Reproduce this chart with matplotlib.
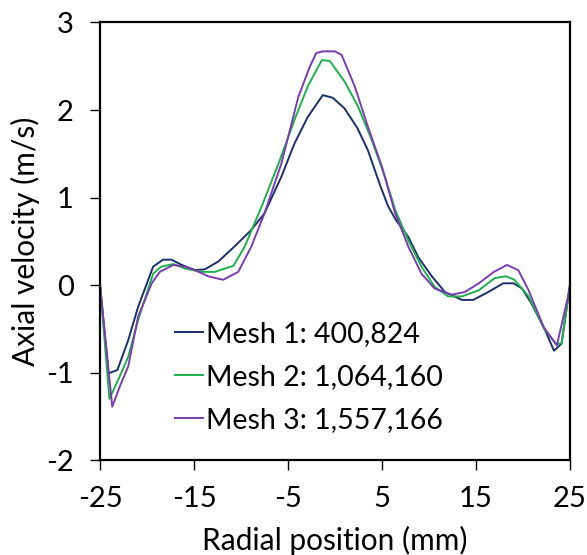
import matplotlib
matplotlib.use("Agg")
import matplotlib.pyplot as plt

# Mesh independence - axial velocity profiles
mesh1_x = [-25, -24.1, -23.15, -22.0, -20.95, -19.35, -18.3, -17.4, -16.3, -14.9, -13.85, -12.4,
           -10.7, -8.9, -7.5, -5.7, -4.3, -2.9, -1.3, -0.25, 1.0, 2.4, 3.5, 4.8, 5.65, 6.5, 7.8,
           8.85, 10.3, 11.7, 13.5, 14.7, 16.3, 17.9, 19.0, 19.9, 20.9, 22.2, 23.3, 24.1, 25]
mesh1_y = [0, -1.01, -0.97, -0.63, -0.25, 0.21, 0.29, 0.29, 0.23, 0.17, 0.18, 0.27,
           0.44, 0.63, 0.82, 1.24, 1.62, 1.92, 2.17, 2.14, 2.02, 1.79, 1.54, 1.14, 0.9, 0.74, 0.55,
           0.32, 0.10, -0.08, -0.17, -0.17, -0.08, 0.02, 0.02, -0.04, -0.21, -0.48, -0.75, -0.67, 0]

mesh2_x = [-25, -24.0, -23.1, -22.0, -20.95, -19.35, -18.5, -17.2, -16.0, -14.2, -12.8, -10.8,
           -9.6, -7.8, -6.0, -4.3, -2.9, -1.4, -0.55, 1.05, 2.45, 3.9, 5.3, 6.4, 7.8, 9.2,
           10.6, 12.05, 13.5, 15.3, 17.0, 18.2, 19.1, 20.6, 22.3, 23.5, 24.1, 25]
mesh2_y = [0, -1.30, -1.09, -0.82, -0.40, 0.13, 0.21, 0.24, 0.19, 0.15, 0.15, 0.22,
           0.44, 0.90, 1.39, 1.89, 2.27, 2.57, 2.56, 2.32, 2.04, 1.66, 1.24, 0.86, 0.51, 0.21,
           -0.02, -0.13, -0.13, -0.06, 0.08, 0.10, 0.06, -0.13, -0.51, -0.67, -0.67, 0]

mesh3_x = [-25, -23.7, -22.9, -22.0, -20.95, -19.5, -18.65, -17.2, -16.0, -14.9, -13.5, -11.9,
           -10.3, -8.9, -7.5, -5.7, -3.9, -2.7, -2.0, -1.3, 0.0, 0.7, 2.1, 3.5, 5.0, 6.4, 7.8,
           9.2, 10.6, 12.4, 13.8, 15.3, 16.9, 18.3, 19.5, 20.6, 22.2, 23.6, 24.8, 25]
mesh3_y = [0, -1.39, -1.16, -0.93, -0.36, 0.02, 0.15, 0.23, 0.21, 0.17, 0.10, 0.06,
           0.15, 0.44, 0.82, 1.39, 2.15, 2.49, 2.65, 2.67, 2.67, 2.63, 2.27, 1.81, 1.35, 0.82, 0.44,
           0.13, -0.04, -0.11, -0.08, 0.02, 0.15, 0.23, 0.17, -0.06, -0.48, -0.69, -0.13, 0]

labels = ["Mesh 1: 400,824", "Mesh 2: 1,064,160", "Mesh 3: 1,557,166"]
colors = ["#1B2F6B", "#1DB14B", "#7A3DB0"]

plt.rcParams['font.family'] = ['Lato', 'DejaVu Sans']
plt.rcParams['axes.unicode_minus'] = False

fig = plt.figure(figsize=(5.87, 5.55), dpi=100)
ax = fig.add_axes([0.1704, 0.171, 0.8006, 0.7885])

for xs, ys, lab, c in zip([mesh1_x, mesh2_x, mesh3_x], [mesh1_y, mesh2_y, mesh3_y], labels, colors):
    ax.plot(xs, ys, color=c, lw=1.4, label=lab)

ax.set_xlim(-25, 25)
ax.set_ylim(-2, 3)
ax.set_xticks([-25, -15, -5, 5, 15, 25])
ax.set_yticks([-2, -1, 0, 1, 2, 3])
ax.tick_params(direction='out', length=7, width=1, labelsize=21, pad=12)
for s in ax.spines.values():
    s.set_linewidth(1.6)

ax.set_xlabel("Radial position (mm)", fontsize=21.5, labelpad=10)
ax.set_ylabel("Axial velocity (m/s)", fontsize=21.5, labelpad=4)

ax.legend(loc='lower left', bbox_to_anchor=(0.135, 0.036), frameon=False, fontsize=20.5,
          handlelength=1.0, handletextpad=0.1, labelspacing=0.6, borderaxespad=0)

fig.savefig("out.png", dpi=100)
